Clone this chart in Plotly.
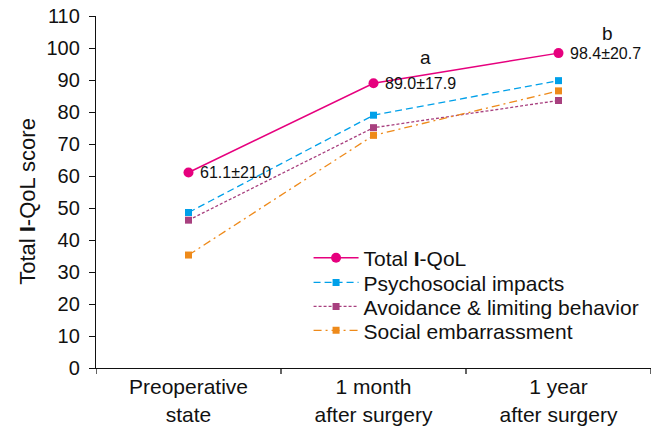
import plotly.graph_objects as go

categories = ["Preoperative<br>state", "1 month<br>after surgery", "1 year<br>after surgery"]
total_iqol = [61.1, 89.0, 98.4]
psychosocial = [48.6, 79.0, 89.8]
avoidance = [46.2, 75.1, 83.6]
social = [35.3, 72.7, 86.6]
total_labels = ["61.1±21.0", "89.0±17.9", "98.4±20.7"]
sig_letters = [("a", 1, 97.0), ("b", 2, 104.5)]
y_ticks = list(range(0, 111, 10))

FONT = "Liberation Sans, Arial, sans-serif"
x_idx = [0, 1, 2]

series = [
    ("Total <b>I</b>-QoL", total_iqol, "#E6007E", "solid", "circle", 10, 1.5),
    ("Psychosocial impacts", psychosocial, "#00A0E9", "7px,4px", "square", 7, 1.3),
    ("Avoidance & limiting behavior", avoidance, "#A8407F", "3px,2px", "square", 7, 1.3),
    ("Social embarrassment", social, "#EE8A1A", "8px,4px,2px,4px", "square", 7, 1.3),
]
legend_rows_y = [0.312, 0.242, 0.174, 0.106]

fig = go.Figure()
layout_legends = {}
for i, (name, vals, col, dash, sym, msz, lw) in enumerate(series):
    lg = "legend" if i == 0 else f"legend{i+1}"
    fig.add_trace(go.Scatter(x=x_idx, y=vals, name=name, mode="lines+markers",
                             line=dict(color=col, width=lw, dash=dash),
                             marker=dict(symbol=sym, size=msz, color=col),
                             legend=lg))
    layout_legends[lg] = dict(x=0.383, y=legend_rows_y[i], xanchor="left", yanchor="middle",
                              bgcolor="rgba(0,0,0,0)", font=dict(size=21, family=FONT, color="#111"),
                              itemwidth=45, borderwidth=0)

for i, (v, t) in enumerate(zip(total_iqol, total_labels)):
    fig.add_annotation(x=i, y=v, text=t, showarrow=False, xanchor="left", yanchor="middle",
                       xshift=9, font=dict(size=16, color="#111", family=FONT))
for letter, xi, yv in sig_letters:
    fig.add_annotation(x=xi, y=yv, text=letter, showarrow=False, xanchor="center", yanchor="middle",
                       xshift=52 if xi == 1 else 49, font=dict(size=19, color="#111", family=FONT))

# y-axis title as rotated text
fig.add_annotation(xref="paper", yref="paper", x=-68 / 555, y=0.472, text="Total <b>I</b>-QoL score",
                   textangle=-90, showarrow=False, xanchor="center", yanchor="middle",
                   font=dict(size=22, family=FONT, color="#111"))

fig.update_layout(
    width=665, height=428,
    margin=dict(l=96, r=14, t=16, b=60, autoexpand=False),
    paper_bgcolor="white", plot_bgcolor="white",
    font=dict(family=FONT, size=20, color="#111"),
    showlegend=True,
    **layout_legends,
)
fig.update_xaxes(
    range=[-0.5, 2.5], tickmode="array", tickvals=x_idx, ticktext=categories,
    showline=True, linecolor="#111", linewidth=1.3, ticks="",
    showgrid=False, zeroline=False, automargin=False,
    tickfont=dict(size=21, family=FONT),
)
fig.update_yaxes(
    range=[0, 110], tickmode="array", tickvals=y_ticks,
    showline=True, linecolor="#111", linewidth=1.3, ticks="outside", ticklen=6,
    tickcolor="#111", showgrid=False, zeroline=False, automargin=False,
    tickfont=dict(size=20, family=FONT), ticklabelstandoff=5,
)

for b in [-0.5, 0.5, 1.5, 2.5]:
    fig.add_shape(type="line", xref="x", yref="paper", x0=b, x1=b, y0=0, y1=-0.017,
                  line=dict(color="#111", width=1.3))

fig.write_html("out.html", post_script="document.body.style.margin='0';",
               config={"displayModeBar": False})
